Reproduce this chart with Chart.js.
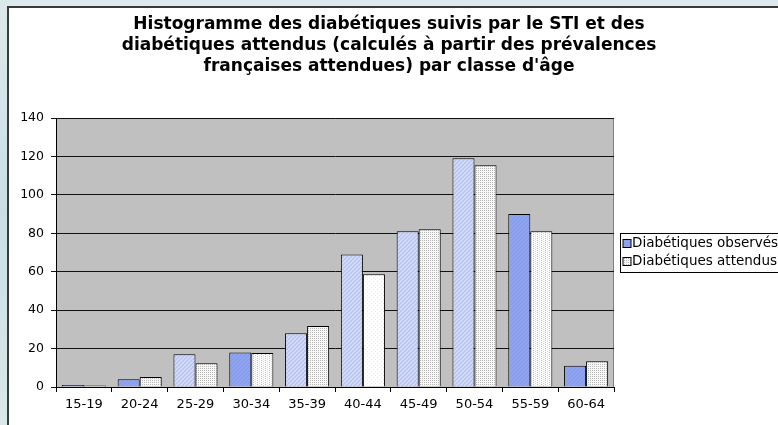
<!DOCTYPE html>
<html>
<head>
<meta charset="utf-8">
<script src="https://cdn.jsdelivr.net/npm/chart.js@4.4.0/dist/chart.umd.min.js"></script>
<style>
  html, body { margin: 0; padding: 0; width: 778px; height: 425px; overflow: hidden; }
  body { background: linear-gradient(180deg, #dbe9ec 0%, #c9dfe3 50%, #d9e8ea 100%); position: relative; }
  .frame { position: absolute; left: 7px; top: 6px; width: 900px; height: 500px; background: #fff;
           border-left: 2px solid #3a3a3a; border-top: 2px solid #3a3a3a; }
  canvas { position: absolute; left: 0; top: 0; }
</style>
</head>
<body>
<div class="frame"></div>
<canvas id="chart" width="778" height="425"></canvas>
<script>
'use strict';

const AGE_CLASSES = ['15-19', '20-24', '25-29', '30-34', '35-39', '40-44', '45-49', '50-54', '55-59', '60-64'];
const OBSERVED = [1, 4, 17, 18, 28, 69, 81, 119, 90, 11];
const EXPECTED = [0.8, 5.2, 12.3, 17.7, 31.8, 58.7, 82.1, 115.4, 81, 13.4];
const Y_TICKS = [0, 20, 40, 60, 80, 100, 120, 140];
const SERIES_NAMES = ['Diabétiques observés', 'Diabétiques attendus'];
const TITLE_LINES = [
  'Histogramme des diabétiques suivis par le STI et des',
  'diabétiques attendus (calculés à partir des prévalences',
  'françaises attendues) par classe d\'âge'
];

// fill style per bar (Excel patterns)
const OBS_STYLE = ['dark', 'dark', 'light', 'dark', 'light', 'light', 'light', 'light', 'dark', 'dark'];
const EXP_STYLE = ['dots', 'dots', 'dots', 'vlines', 'dots', 'plain', 'dots', 'dots', 'vlines', 'dots'];

const FONT = 'DejaVu Sans, Verdana, sans-serif';

function makePattern(kind) {
  const c = document.createElement('canvas');
  c.width = 4; c.height = 4;
  const g = c.getContext('2d');
  const px = (x, y, col) => { g.fillStyle = col; g.fillRect(x, y, 1, 1); };
  if (kind === 'dark') {
    g.fillStyle = '#8fa4f1'; g.fillRect(0, 0, 4, 4);
    for (let i = 0; i < 4; i++) px(i, 3 - i, '#8399ee');
  } else if (kind === 'light') {
    g.fillStyle = '#c6d0f5'; g.fillRect(0, 0, 4, 4);
    for (let i = 0; i < 4; i++) { px(i, 3 - i, '#b7c4f3'); px(i, (5 - i) % 4, '#d7dff9'); }
  } else if (kind === 'dots') {
    g.fillStyle = '#f7f7f7'; g.fillRect(0, 0, 4, 4);
    px(0, 0, '#b8b8b8'); px(2, 0, '#b8b8b8'); px(0, 2, '#b8b8b8'); px(2, 2, '#b8b8b8');
  } else if (kind === 'vlines') {
    g.fillStyle = '#fcfcfc'; g.fillRect(0, 0, 4, 4);
    px(1, 0, '#bdbdbd'); px(1, 2, '#bdbdbd'); px(3, 1, '#dadada'); px(3, 3, '#dadada');
  } else {
    g.fillStyle = '#ffffff'; g.fillRect(0, 0, 4, 4);
    px(1, 1, '#e8e8e8'); px(3, 3, '#e8e8e8');
  }
  return c;
}

const ctx = document.getElementById('chart').getContext('2d');
const pat = kind => ctx.createPattern(makePattern(kind), 'repeat');

const plotBackground = {
  id: 'plotBackground',
  beforeDraw(chart) {
    const { ctx, chartArea: a } = chart;
    ctx.save();
    ctx.fillStyle = '#c0c0c0';
    ctx.fillRect(a.left, a.top, a.right - a.left, a.bottom - a.top);
    ctx.strokeStyle = '#808080';
    ctx.lineWidth = 1;
    ctx.strokeRect(a.left + 0.5, a.top + 0.5, a.right - a.left - 1, a.bottom - a.top);
    ctx.restore();
  }
};

const boxedLegend = {
  id: 'boxedLegend',
  afterDraw(chart) {
    const { ctx } = chart;
    const x = 620.5, y = 233.5, rowH = 18;
    ctx.save();
    ctx.fillStyle = '#fff';
    ctx.fillRect(x, y, 200, 39);
    ctx.strokeStyle = '#000';
    ctx.lineWidth = 1;
    ctx.strokeRect(x, y, 200, 39);
    ctx.font = '13.5px ' + FONT;
    ctx.textBaseline = 'middle';
    chart.data.datasets.forEach((ds, i) => {
      const cy = y + 10 + i * rowH;
      ctx.fillStyle = pat(i === 0 ? 'dark' : 'dots');
      ctx.fillRect(x + 2.5, cy - 4, 8, 8);
      ctx.strokeStyle = '#000';
      ctx.strokeRect(x + 2.5, cy - 4, 8, 8);
      ctx.fillStyle = '#000';
      ctx.fillText(ds.label, x + 11.5, cy);
    });
    ctx.restore();
  }
};

new Chart(ctx, {
  type: 'bar',
  data: {
    labels: AGE_CLASSES,
    datasets: [
      {
        label: SERIES_NAMES[0],
        data: OBSERVED,
        backgroundColor: OBS_STYLE.map(pat),
        borderColor: '#000',
        borderWidth: 1
      },
      {
        label: SERIES_NAMES[1],
        data: EXPECTED,
        backgroundColor: EXP_STYLE.map(pat),
        borderColor: '#000',
        borderWidth: 1
      }
    ]
  },
  options: {
    responsive: false,
    animation: false,
    layout: { padding: { left: 0, right: 0, top: 0, bottom: 0 } },
    datasets: { bar: { barPercentage: 1, categoryPercentage: 0.79 } },
    plugins: {
      legend: { display: false },
      tooltip: { enabled: false },
      title: {
        display: true,
        text: TITLE_LINES,
        color: '#000',
        font: { family: FONT, size: 17, weight: 'bold', lineHeight: 21 / 17 },
        padding: { top: 14, bottom: 41 }
      }
    },
    scales: {
      x: {
        grid: { drawOnChartArea: false, drawTicks: true, tickLength: 5, color: '#000', offset: true },
        border: { display: true, color: '#000', width: 1 },
        ticks: { color: '#000', font: { family: FONT, size: 13 }, padding: 5, maxRotation: 0 },
        afterFit(s) { s.height = 38; }
      },
      y: {
        min: 0,
        max: 140,
        afterBuildTicks(s) { s.ticks = Y_TICKS.map(v => ({ value: v })); },
        grid: { color: '#111', tickLength: 5, drawTicks: true },
        border: { display: true, color: '#000', width: 1 },
        ticks: { color: '#000', font: { family: FONT, size: 12.5 }, padding: 7 },
        afterFit(s) { s.width = 56; }
      },
      pad: {
        position: 'right',
        display: true,
        grid: { display: false },
        border: { display: false },
        ticks: { display: false },
        afterFit(s) { s.width = 778 - 614; }
      }
    }
  },
  plugins: [plotBackground, boxedLegend]
});
</script>
</body>
</html>
